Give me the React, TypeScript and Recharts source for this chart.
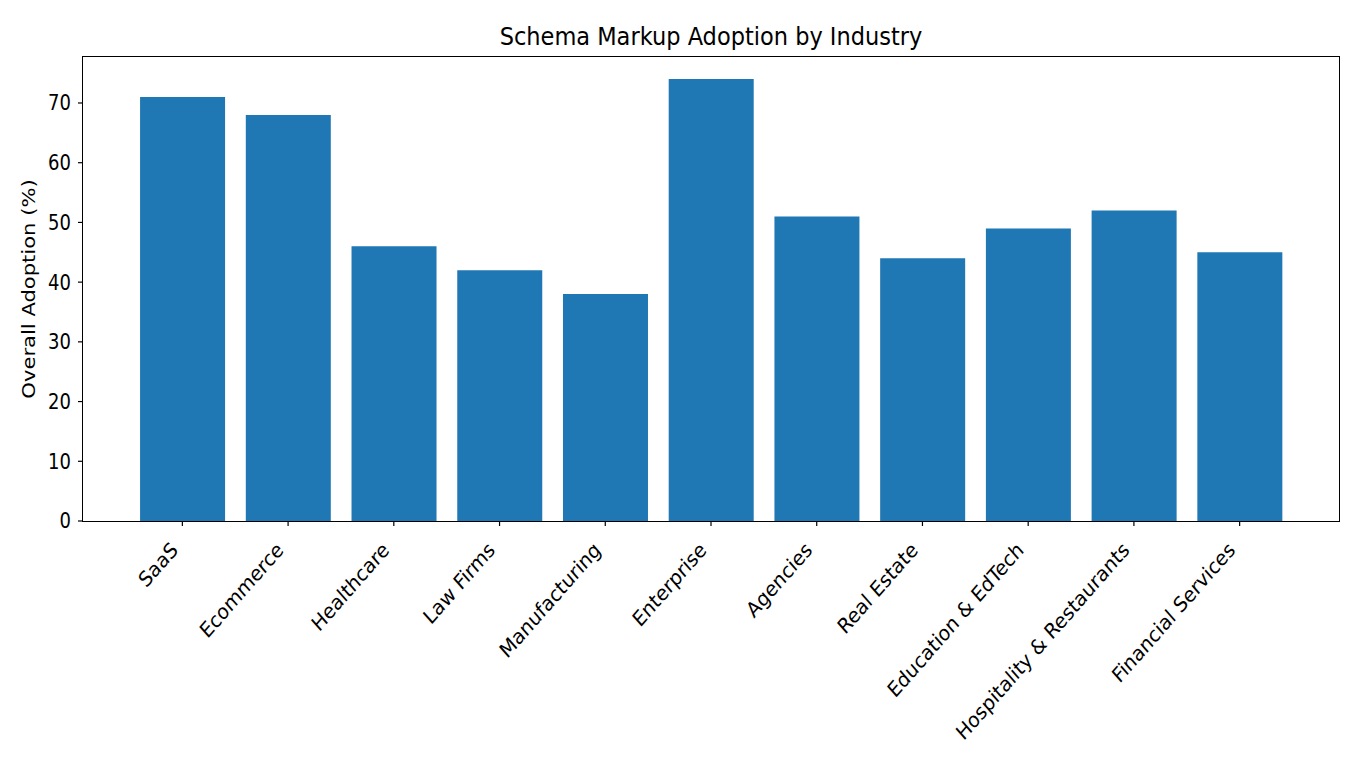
import React from 'react';
import { BarChart, Bar, XAxis, YAxis } from 'recharts';

const industries = [
  'SaaS',
  'Ecommerce',
  'Healthcare',
  'Law Firms',
  'Manufacturing',
  'Enterprise',
  'Agencies',
  'Real Estate',
  'Education & EdTech',
  'Hospitality & Restaurants',
  'Financial Services',
];
const adoption = [71, 68, 46, 42, 38, 74, 51, 44, 49, 52, 45];
const yTicks = [0, 10, 20, 30, 40, 50, 60, 70];

const data = industries.map((name, i) => ({ name, value: adoption[i] }));

const FONT = '"DejaVu Sans", sans-serif';
const STRETCH = 1.14; // reference text is a bit taller than wide

// rotated tick label, right end pinned under the tick like matplotlib ha='right'
const SlantTick = (props: any) => {
  const { x, y, payload } = props;
  return (
    <g transform={`translate(${x - 8},${y + 18}) scale(1,${STRETCH}) rotate(-45)`}>
      <text x={0} y={0} dy="0.35em" textAnchor="end" fontSize={18.5} fontFamily={FONT} fill="#000">
        {payload.value}
      </text>
    </g>
  );
};

const ValueTick = (props: any) => {
  const { x, y, payload } = props;
  return (
    <g transform={`translate(${x - 5},${y}) scale(1,${STRETCH})`}>
      <text x={0} y={0} dy="0.36em" textAnchor="end" fontSize={18} fontFamily={FONT} fill="#000">
        {payload.value}
      </text>
    </g>
  );
};

const YLabel = (props: any) => {
  const vb = props.viewBox;
  const cx = vb.x + 28;
  const cy = vb.y + vb.height / 2;
  return (
    <g transform={`translate(${cx},${cy}) scale(1,${STRETCH}) rotate(-90)`}>
      <text x={0} y={0} dy="0.36em" textAnchor="middle" fontSize={18.5} fontFamily={FONT} fill="#000">
        Overall Adoption (%)
      </text>
    </g>
  );
};

export default function App() {
  return (
    <div style={{ position: 'absolute', left: 0, top: 0, width: 1360, height: 768, background: '#fff' }}>
      <svg width={1360} height={60} style={{ position: 'absolute', left: 0, top: 0 }}>
        <g transform={`translate(711,45) scale(1,${STRETCH})`}>
          <text x={0} y={0} textAnchor="middle" fontSize={22.5} fontFamily={FONT} fill="#000">
            Schema Markup Adoption by Industry
          </text>
        </g>
      </svg>
      <BarChart width={1360} height={768} data={data} margin={{ top: 57, right: 21, bottom: 0, left: 0 }} barCategoryGap="10%">
        <XAxis
          dataKey="name"
          interval={0}
          height={247}
          padding={{ left: 46.5, right: 46.5 }}
          axisLine={false}
          tickLine={{ stroke: '#000', strokeWidth: 1.2 }}
          tickSize={5}
          tick={<SlantTick />}
        />
        <YAxis
          width={83}
          domain={[0, 77.7]}
          ticks={yTicks}
          allowDataOverflow
          axisLine={false}
          tickLine={{ stroke: '#000', strokeWidth: 1.2 }}
          tickSize={5}
          tick={<ValueTick />}
          label={<YLabel />}
        />
        <Bar dataKey="value" fill="#1f77b4" isAnimationActive={false} />
      </BarChart>
      {/* plot frame (matplotlib draws all four spines) */}
      <div
        style={{
          position: 'absolute',
          left: 82.4,
          top: 56.4,
          width: 1256,
          height: 464,
          border: '1.2px solid #000',
          pointerEvents: 'none',
        }}
      />
    </div>
  );
}
